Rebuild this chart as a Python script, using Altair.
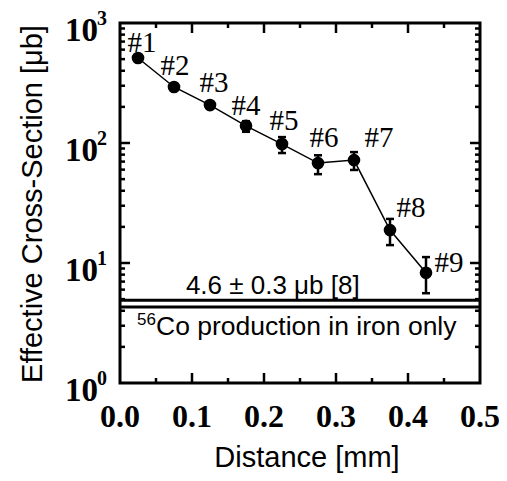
import altair as alt
import pandas as pd

# ---- data ----
points = ["#1", "#2", "#3", "#4", "#5", "#6", "#7", "#8", "#9"]
distance = [0.025, 0.075, 0.125, 0.175, 0.225, 0.275, 0.325, 0.375, 0.425]
xsec = [511, 293, 207, 139, 98, 68, 72, 18.8, 8.3]
err_lo = [490, 280, 197, 124, 82.5, 55, 59.6, 14.1, 5.6]
err_hi = [535, 306, 218, 152, 112, 79, 84, 23.3, 11.2]
label_x = [0.0306, 0.0764, 0.1306, 0.175, 0.2278, 0.2833, 0.3597, 0.404, 0.457]
label_y = [573, 369, 266, 171, 128, 92.6, 92.6, 24.2, 8.4]
ref_lines = [4.9, 4.3]
ref_text = "4.6 \u00b1 0.3 \u03bcb [8]"
ref_text_x = 0.2122
ref_text_y = 5.55
fe_text = "Co production in iron only"
fe_sup = "56"
fe_text_x = 0.05
fe_text_y = 2.51

x_major = [0.1, 0.2, 0.3, 0.4]
x_minor = [0.05, 0.15, 0.25, 0.35, 0.45]
x_labels = [0.0, 0.1, 0.2, 0.3, 0.4, 0.5]
y_major = [10, 100]
y_minor = [m * d for d in (1, 10, 100) for m in range(2, 10)]
y_labels = [1, 10, 100, 1000]
y_exponents = ["0", "1", "2", "3"]

x_title = "Distance [mm]"
y_title = "Effective Cross-Section [\u03bcb]"

W, H = 360, 360
SERIF = "Liberation Serif"
SANS = "Liberation Sans"

xs = alt.Scale(domain=[0, 0.5], nice=False, zero=False)
ys = alt.Scale(type="log", domain=[1, 1000], nice=False)


def X(f):
    return alt.X(f, type="quantitative", scale=xs, axis=None)


def Y(f):
    return alt.Y(f, type="quantitative", scale=ys, axis=None)


df = pd.DataFrame({"p": points, "x": distance, "y": xsec, "lo": err_lo, "hi": err_hi,
                   "lx": label_x, "ly": label_y})

line = alt.Chart(df).mark_line(color="black", strokeWidth=1.5).encode(x=X("x"), y=Y("y"))
ebar = alt.Chart(df).mark_rule(color="black", strokeWidth=2.5).encode(x=X("x"), y=Y("lo"), y2="hi")
cap_lo = alt.Chart(df).mark_tick(color="black", orient="horizontal", size=8, thickness=2.5, opacity=1).encode(x=X("x"), y=Y("lo"))
cap_hi = alt.Chart(df).mark_tick(color="black", orient="horizontal", size=8, thickness=2.5, opacity=1).encode(x=X("x"), y=Y("hi"))
dots = alt.Chart(df).mark_circle(color="black", size=160, opacity=1).encode(x=X("x"), y=Y("y"))
labels = alt.Chart(df).mark_text(font=SERIF, fontSize=29, align="center", baseline="alphabetic",
                                 color="black").encode(x=X("lx"), y=Y("ly"), text="p")

refdf = pd.DataFrame({"v": ref_lines})
hlines = alt.Chart(refdf).mark_rule(color="black", strokeWidth=3).encode(
    y=Y("v"), x=alt.value(0), x2=alt.value(W))

ann1 = alt.Chart(pd.DataFrame({"x": [ref_text_x], "y": [ref_text_y], "t": [ref_text]})).mark_text(
    font=SANS, fontSize=26, align="center", baseline="alphabetic", color="black").encode(
    x=X("x"), y=Y("y"), text="t")
ann2 = alt.Chart(pd.DataFrame({"x": [fe_text_x], "y": [fe_text_y], "t": [fe_text]})).mark_text(
    font=SANS, fontSize=26.5, align="left", baseline="alphabetic", color="black").encode(
    x=X("x"), y=Y("y"), text="t")
ann2s = alt.Chart(pd.DataFrame({"x": [fe_text_x], "y": [fe_text_y], "t": [fe_sup]})).mark_text(
    font=SANS, fontSize=17, align="right", baseline="alphabetic", dy=-10, dx=0, color="black").encode(
    x=X("x"), y=Y("y"), text="t")

# inner ticks
xmaj = pd.DataFrame({"v": x_major})
xmin = pd.DataFrame({"v": x_minor})
ymaj = pd.DataFrame({"v": y_major})
ymin = pd.DataFrame({"v": y_minor})
tk = dict(color="black", strokeWidth=2.5)
ticks = [
    alt.Chart(xmaj).mark_rule(**tk).encode(x=X("v"), y=alt.value(H), y2=alt.value(H - 10)),
    alt.Chart(xmaj).mark_rule(**tk).encode(x=X("v"), y=alt.value(0), y2=alt.value(10)),
    alt.Chart(xmin).mark_rule(**tk).encode(x=X("v"), y=alt.value(H), y2=alt.value(H - 5)),
    alt.Chart(xmin).mark_rule(**tk).encode(x=X("v"), y=alt.value(0), y2=alt.value(5)),
    alt.Chart(ymaj).mark_rule(**tk).encode(y=Y("v"), x=alt.value(0), x2=alt.value(10)),
    alt.Chart(ymaj).mark_rule(**tk).encode(y=Y("v"), x=alt.value(W), x2=alt.value(W - 10)),
    alt.Chart(ymin).mark_rule(**tk).encode(y=Y("v"), x=alt.value(0), x2=alt.value(5)),
    alt.Chart(ymin).mark_rule(**tk).encode(y=Y("v"), x=alt.value(W), x2=alt.value(W - 5)),
]

# tick labels
xl = alt.Chart(pd.DataFrame({"v": x_labels})).mark_text(
    font=SERIF, fontWeight="bold", fontSize=32, align="center", baseline="alphabetic", color="black").encode(
    x=X("v"), y=alt.value(H + 44), text=alt.Text("v:Q", format=".1f"))
yl_df = pd.DataFrame({"v": y_labels, "e": y_exponents, "b": ["10"] * len(y_labels)})
yl = alt.Chart(yl_df).mark_text(
    font=SERIF, fontWeight="bold", fontSize=33, align="right", baseline="alphabetic", dy=18, color="black").encode(
    y=Y("v"), x=alt.value(-22), text="b")
ye = alt.Chart(yl_df).mark_text(
    font=SERIF, fontWeight="bold", fontSize=20, align="left", baseline="alphabetic", dy=2, color="black").encode(
    y=Y("v"), x=alt.value(-23), text="e")

# axis titles
xt = alt.Chart(pd.DataFrame({"t": [x_title]})).mark_text(
    font=SANS, fontSize=29, align="center", baseline="alphabetic", color="black").encode(
    x=alt.value(187), y=alt.value(444), text="t")
yt = alt.Chart(pd.DataFrame({"t": [y_title]})).mark_text(
    font=SANS, fontSize=29, align="center", baseline="alphabetic", angle=270, color="black").encode(
    x=alt.value(-78), y=alt.value(181), text="t")

chart = alt.layer(
    hlines, line, ebar, cap_lo, cap_hi, dots, labels, ann1, ann2, ann2s, *ticks, xl, yl, ye, xt, yt
).properties(
    width=W, height=H, autosize="none",
    padding={"left": 112, "top": 15, "right": 19, "bottom": 90},
).configure_view(stroke="black", strokeWidth=3)

chart.save("out.html", embed_options={"renderer": "svg", "actions": False})
